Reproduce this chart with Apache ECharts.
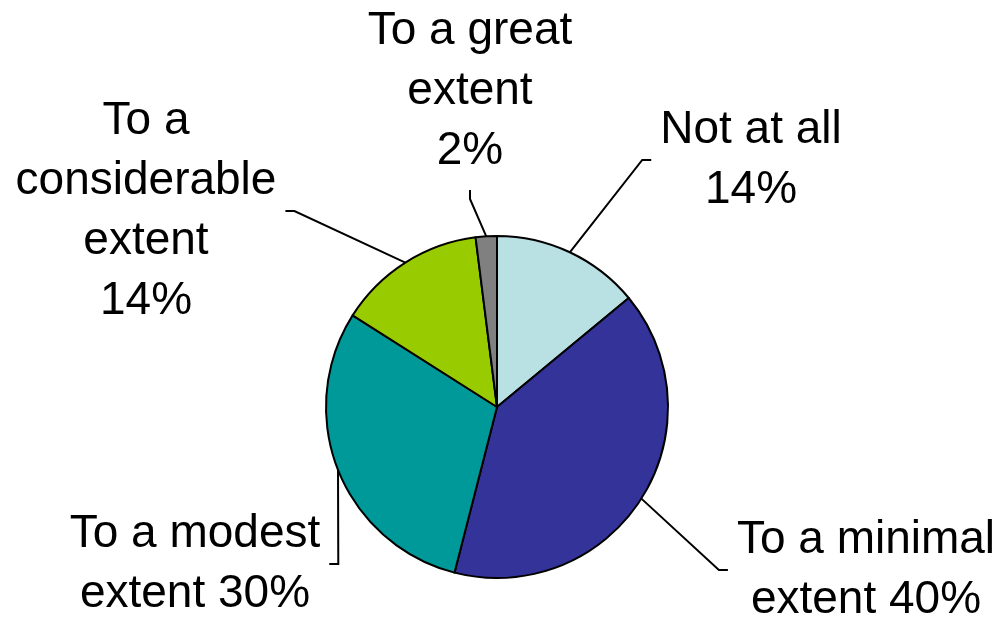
<!DOCTYPE html>
<html>
<head>
<meta charset="utf-8">
<script src="https://cdn.jsdelivr.net/npm/echarts@6/dist/echarts.min.js"></script>
<style>
  html, body { margin: 0; padding: 0; background: #fff; }
  #chart { width: 1001px; height: 619px; }
</style>
</head>
<body>
<div id="chart"></div>
<script>
// Slices, clockwise from 12 o'clock
const categories = ['Not at all', 'To a minimal extent', 'To a modest extent', 'To a considerable extent', 'To a great extent'];
const values = [14, 40, 30, 14, 2];
// Label text before the percentage (line breaks included)
const labelHeads = ['Not at all\n', 'To a minimal\nextent ', 'To a modest\nextent ', 'To a\nconsiderable\nextent\n', 'To a great\nextent\n'];
const colors = ['#B9E0E3', '#333399', '#009999', '#99CC00', '#808080'];

// Label block centres and the side of the block that the leader line meets
const labelCentres = [[751, 160], [866, 570], [195, 564], [146, 211], [470, 91]];
const labelSides = ['left', 'left', 'right', 'right', 'bottom'];
const GAP = 9, TAIL = 9;

const chart = echarts.init(document.getElementById('chart'));

chart.setOption({
  backgroundColor: '#ffffff',
  animation: false,
  series: [{
    type: 'pie',
    center: [497, 407],
    radius: 171,
    startAngle: 90,
    clockwise: true,
    avoidLabelOverlap: false,
    itemStyle: { borderColor: '#000', borderWidth: 2 },
    emphasis: { disabled: true },
    label: {
      show: true,
      position: 'outside',
      color: '#000',
      fontFamily: '"Liberation Sans", Arial, sans-serif',
      fontSize: 46,
      lineHeight: 60,
      align: 'center',
      formatter: p => labelHeads[p.dataIndex] + p.value + '%'
    },
    labelLine: {
      show: true,
      lineStyle: { color: '#000', width: 2 }
    },
    labelLayout: function (params) {
      const i = params.dataIndex;
      const [cx, cy] = labelCentres[i];
      const w = params.labelRect.width, h = params.labelRect.height;
      const start = params.labelLinePoints[0];
      let end, turn;
      if (labelSides[i] === 'left') {
        end = [cx - w / 2 - GAP, cy];
        turn = [end[0] - TAIL, cy];
      } else if (labelSides[i] === 'right') {
        end = [cx + w / 2 + GAP, cy];
        turn = [end[0] + TAIL, cy];
      } else {
        end = [cx, cy + h / 2 + GAP];
        turn = [cx, end[1] + TAIL];
      }
      return {
        x: cx, y: cy,
        align: 'center', verticalAlign: 'middle',
        labelLinePoints: [start, turn, end]
      };
    },
    data: categories.map((name, i) => ({
      name: name,
      value: values[i],
      itemStyle: { color: colors[i] }
    }))
  }]
});
</script>
</body>
</html>
